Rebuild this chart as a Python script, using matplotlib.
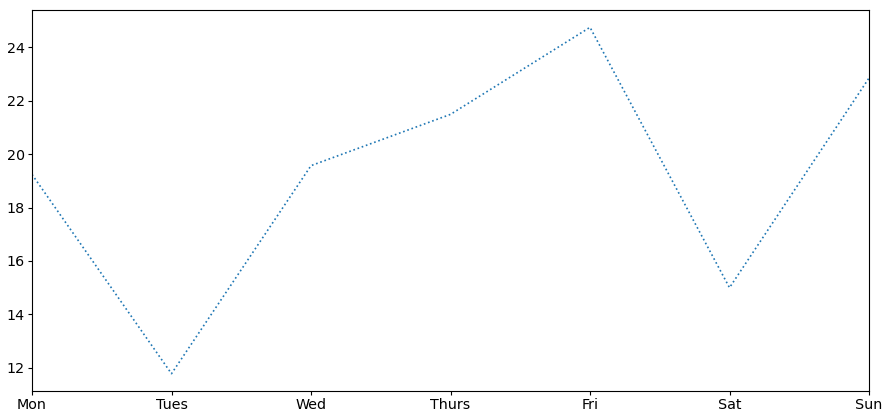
import numpy as np
import matplotlib
matplotlib.use("Agg")
import matplotlib.pyplot as plt

days = ["Mon", "Tues", "Wed", "Thurs", "Fri", "Sat", "Sun"]
temps = [19.24, 11.78, 19.57, 21.49, 24.75, 15.0, 22.85]

fig = plt.figure(figsize=(8.89, 4.19), dpi=100)
ax = fig.add_axes([32 / 889, 1 - 391 / 419, (869 - 32) / 889, (391 - 10) / 419])
x = np.arange(len(days))
ax.plot(x, temps, linestyle=":", linewidth=1.2, color="#1f77b4")
ax.set_xticks(x)
ax.set_xticklabels(days)
ax.set_xlim(x[0], x[-1])
ax.tick_params(labelsize=10.3, length=2.6, pad=2.6, width=0.8)
for s in ax.spines.values():
    s.set_linewidth(0.8)

fig.savefig("out.png", dpi=100)
plt.close(fig)
